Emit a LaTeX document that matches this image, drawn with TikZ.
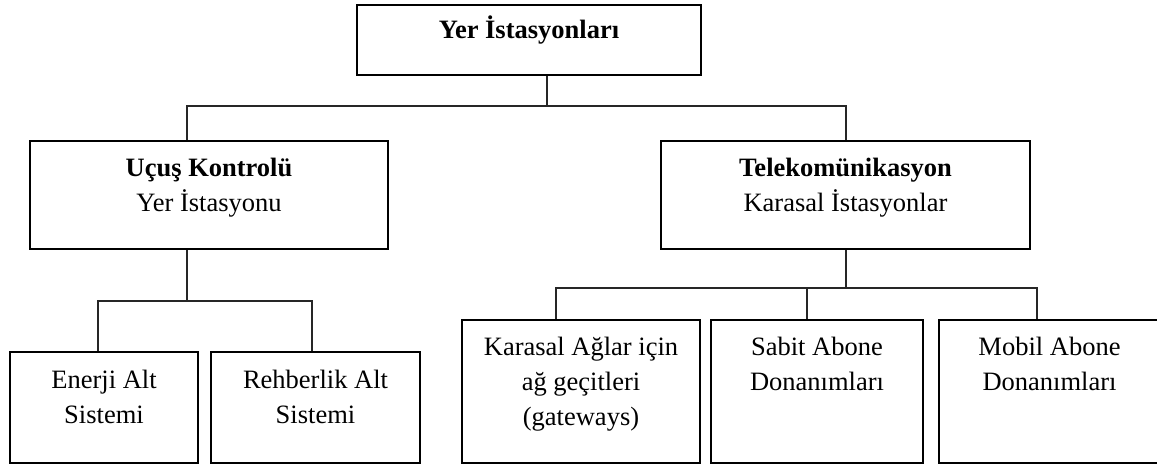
\documentclass[tikz,border=0pt]{standalone}
\usepackage{fontspec}
\setmainfont{Liberation Serif}
\begin{document}
\begin{tikzpicture}[x=1pt,y=-1pt,
  box/.style={draw=black, line width=1.8pt, inner sep=0pt, fill=none},
  txt/.style={anchor=north, inner sep=0pt, align=center, font=\fontsize{26.5}{35}\selectfont},
  conn/.style={draw=black!85, line width=2.4pt, line join=miter}]
\useasboundingbox (0,0) rectangle (1157,464);
% boxes
\node[box, minimum width=344pt, minimum height=70pt] (top) at (529,40) {};
\node[box, minimum width=358pt, minimum height=108pt] (uk) at (209,195) {};
\node[box, minimum width=369pt, minimum height=108pt] (tk) at (845.5,195) {};
\node[box, minimum width=188pt, minimum height=111pt] (en) at (104,407.5) {};
\node[box, minimum width=209pt, minimum height=111pt] (rh) at (315.5,407.5) {};
\node[box, minimum width=238pt, minimum height=143pt] (kg) at (581,391.5) {};
\node[box, minimum width=212pt, minimum height=143pt] (sa) at (817,391.5) {};
\node[box, minimum width=221pt, minimum height=143pt] (mo) at (1049.5,391.5) {};
% texts
\node[txt] (toptx) at (529,13.5) {\strut\bfseries Yer İstasyonları};
\node[txt] (uktx) at (209,151.5) {\strut\bfseries Uçuş Kontrolü\\Yer İstasyonu};
\node[txt] (tktx) at (845.5,151.5) {\strut\bfseries Telekomünikasyon\\Karasal İstasyonlar};
\node[txt] (entx) at (104,363.5) {\strut Enerji Alt\\Sistemi};
\node[txt] (rhtx) at (315.5,363.5) {\strut Rehberlik Alt\\Sistemi};
\node[txt] (kgtx) at (581,330.5) {\strut Karasal Ağlar için\\ağ geçitleri\\(gateways)};
\node[txt] (satx) at (817,330.5) {\strut Sabit Abone\\Donanımları};
\node[txt] (motx) at (1049.5,330.5) {\strut Mobil Abone\\Donanımları};
% junction coordinates
\coordinate (b0) at (547,106);
\coordinate (tu) at (187,106);
\coordinate (tt) at (846,106);
\coordinate (ul) at (187,301);
\coordinate (ue) at (98,301);
\coordinate (ur) at (312,301);
\coordinate (tl) at (846,288);
\coordinate (tg) at (556,288);
\coordinate (ts) at (807,288);
\coordinate (tm) at (1037,288);
% connectors
\draw[conn] (b0 |- top.south) -- (b0);
\draw[conn] (tu |- uk.north) -- (tu) -- (tt) -- (tt |- tk.north);
\draw[conn] (ul |- uk.south) -- (ul);
\draw[conn] (ue |- en.north) -- (ue) -- (ur) -- (ur |- rh.north);
\draw[conn] (tl |- tk.south) -- (tl);
\draw[conn] (tg |- kg.north) -- (tg) -- (tm) -- (tm |- mo.north);
\draw[conn] (ts) -- (ts |- sa.north);
\end{tikzpicture}
\end{document}
